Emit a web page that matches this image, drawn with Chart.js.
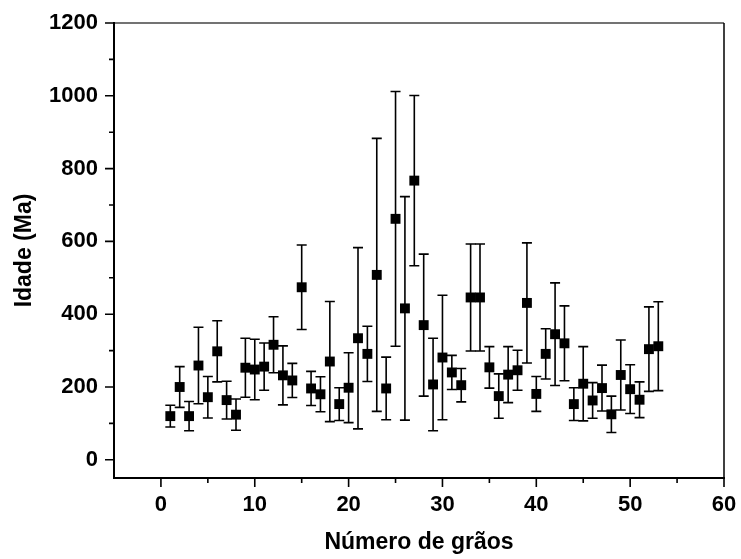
<!DOCTYPE html>
<html>
<head>
<meta charset="utf-8">
<title>Idade vs Número de grãos</title>
<script src="https://cdn.jsdelivr.net/npm/chart.js@4"></script>
<style>
  html, body { margin: 0; padding: 0; background: #fff; }
  #wrap { position: relative; width: 741px; height: 559px; }
</style>
</head>
<body>
<div id="wrap"><canvas id="chart"></canvas></div>
<script>
// grain number, age (Ma) and its 1-sigma error
const grains = [1, 2, 3, 4, 5, 6, 7, 8, 9, 10, 11, 12, 13, 14, 15, 16, 17, 18, 19, 20,
  21, 22, 23, 24, 25, 26, 27, 28, 29, 30, 31, 32, 33, 34, 35, 36, 37, 38, 39, 40,
  41, 42, 43, 44, 45, 46, 47, 48, 49, 50, 51, 52, 53];
const ages = [120, 200, 120, 259, 172, 298, 164, 124, 253, 248, 256, 316, 232, 218, 474, 196, 180, 270, 153, 198,
  334, 291, 508, 196, 662, 416, 767, 370, 207, 281, 240, 205, 446, 446, 254, 175, 234, 246, 431, 181,
  291, 345, 320, 153, 209, 163, 197, 125, 233, 194, 165, 304, 312];
const errors = [30, 56, 40, 105, 57, 84, 52, 43, 81, 83, 65, 77, 81, 47, 116, 47, 48, 165, 45, 96,
  249, 76, 375, 86, 350, 307, 234, 195, 127, 171, 47, 46, 147, 147, 57, 61, 77, 55, 165, 48,
  69, 141, 103, 45, 102, 49, 63, 50, 96, 67, 49, 116, 122];

const xMajor = [0, 10, 20, 30, 40, 50, 60];
const xMinor = [5, 15, 25, 35, 45, 55];
const yMajor = [0, 200, 400, 600, 800, 1000, 1200];
const yMinor = [100, 300, 500, 700, 900, 1100];

const tickFont = { family: "'Liberation Sans', Arial, sans-serif", size: 22, weight: 'bold' };
const titleFont = { family: "'Liberation Sans', Arial, sans-serif", size: 23, weight: 'bold' };

// error bars go under the squares
const errorBars = {
  id: 'errorBars',
  beforeDatasetsDraw(chart) {
    const { ctx, scales: { x, y } } = chart;
    ctx.save();
    ctx.strokeStyle = '#000';
    ctx.lineWidth = 1.6;
    grains.forEach((g, i) => {
      const px = x.getPixelForValue(g);
      const top = y.getPixelForValue(ages[i] + errors[i]);
      const bot = y.getPixelForValue(ages[i] - errors[i]);
      ctx.beginPath();
      ctx.moveTo(px, top); ctx.lineTo(px, bot);
      ctx.moveTo(px - 5, top); ctx.lineTo(px + 5, top);
      ctx.moveTo(px - 5, bot); ctx.lineTo(px + 5, bot);
      ctx.stroke();
    });
    ctx.restore();
  }
};

// box frame plus major/minor tick marks
const frame = {
  id: 'frame',
  afterDraw(chart) {
    const { ctx, chartArea: a, scales: { x, y } } = chart;
    ctx.save();
    ctx.strokeStyle = '#444';
    ctx.lineWidth = 1.5;
    ctx.beginPath();
    ctx.moveTo(a.left, a.top); ctx.lineTo(a.right, a.top);
    ctx.stroke();
    ctx.strokeStyle = '#000';
    ctx.beginPath();
    ctx.moveTo(a.right, a.top); ctx.lineTo(a.right, a.bottom);
    ctx.stroke();
    ctx.lineWidth = 2;
    ctx.beginPath();
    ctx.moveTo(a.left, a.top - 1); ctx.lineTo(a.left, a.bottom);
    ctx.lineTo(a.right + 1, a.bottom);
    ctx.stroke();
    ctx.lineWidth = 1.6;
    ctx.beginPath();
    xMajor.forEach(v => { const p = x.getPixelForValue(v); ctx.moveTo(p, a.bottom); ctx.lineTo(p, a.bottom + 9); });
    xMinor.forEach(v => { const p = x.getPixelForValue(v); ctx.moveTo(p, a.bottom); ctx.lineTo(p, a.bottom + 5); });
    yMajor.forEach(v => { const p = y.getPixelForValue(v); ctx.moveTo(a.left, p); ctx.lineTo(a.left - 9, p); });
    yMinor.forEach(v => { const p = y.getPixelForValue(v); ctx.moveTo(a.left, p); ctx.lineTo(a.left - 5, p); });
    ctx.stroke();
    ctx.restore();
  }
};

// fixed box sizes, no extra room for overhanging labels
function fixX(s) {
  s.height = 81;
  s.paddingLeft = s.paddingRight = s.paddingTop = s.paddingBottom = 0;
}
function fixY(s) {
  s.width = 114;
  s.paddingLeft = s.paddingRight = s.paddingTop = s.paddingBottom = 0;
}

new Chart(document.getElementById('chart'), {
  type: 'scatter',
  data: {
    datasets: [{
      data: grains.map((g, i) => ({ x: g, y: ages[i] })),
      pointStyle: 'rect',
      pointRadius: 7,
      backgroundColor: '#000',
      borderColor: '#000',
      borderWidth: 0
    }]
  },
  options: {
    responsive: true,
    maintainAspectRatio: false,
    animation: false,
    layout: { padding: { top: 23, right: 17, left: 0, bottom: 0 } },
    plugins: { legend: { display: false }, tooltip: { enabled: false } },
    scales: {
      x: {
        type: 'linear',
        min: -5,
        max: 60,
        grid: { display: false },
        border: { display: false },
        afterBuildTicks: s => { s.ticks = xMajor.map(v => ({ value: v })); },
        afterFit: fixX,
        ticks: { autoSkip: false, maxRotation: 0, padding: 6, color: '#000', font: tickFont, callback: v => String(v) },
        title: { display: true, text: 'Número de grãos', color: '#000', font: titleFont, padding: { top: 0, bottom: 3 } }
      },
      y: {
        type: 'linear',
        min: -50,
        max: 1200,
        grid: { display: false },
        border: { display: false },
        afterBuildTicks: s => { s.ticks = yMajor.map(v => ({ value: v })); },
        afterFit: fixY,
        ticks: { autoSkip: false, padding: 8, color: '#000', font: tickFont, callback: v => String(v) },
        title: { display: true, text: 'Idade (Ma)', color: '#000', font: titleFont, padding: { top: 11, bottom: 0 } }
      }
    }
  },
  plugins: [errorBars, frame]
});
</script>
</body>
</html>
